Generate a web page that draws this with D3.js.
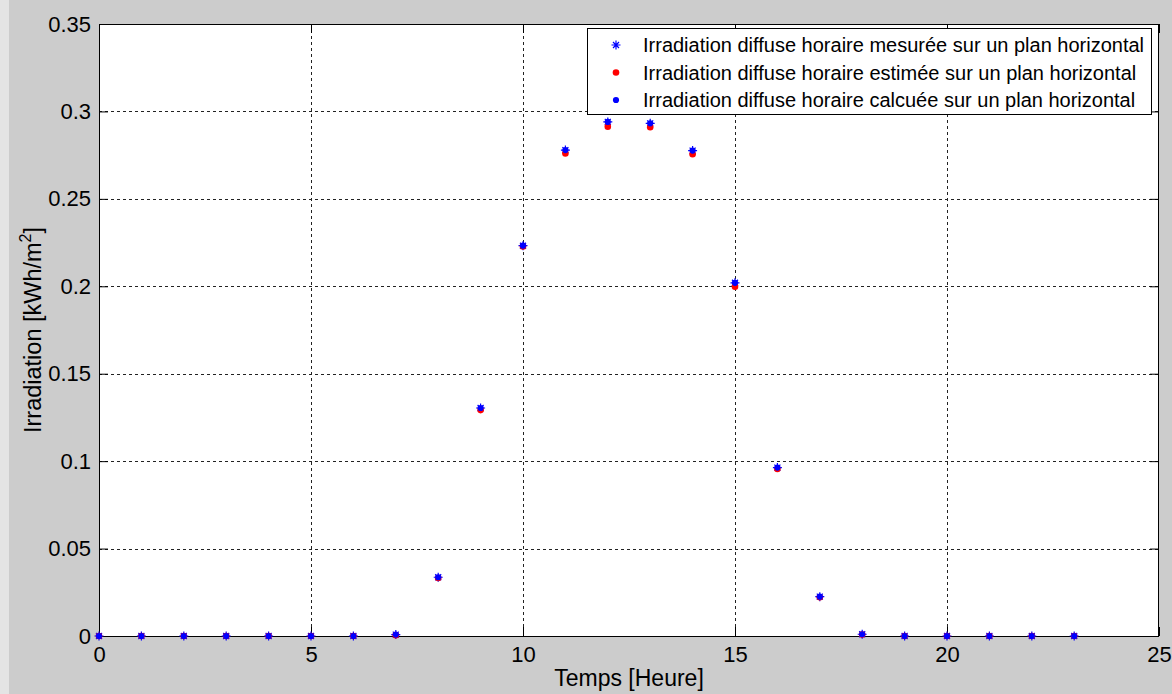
<!DOCTYPE html>
<html>
<head>
<meta charset="utf-8">
<script src="https://cdn.jsdelivr.net/npm/d3@7"></script>
<style>
  html, body { margin: 0; padding: 0; background: #cccccc; }
  svg { display: block; }
  text { font-family: "Liberation Sans", Arial, sans-serif; fill: #000; }
</style>
</head>
<body>
<svg id="chart" width="1172" height="694"></svg>
<script>
// Hourly diffuse irradiation on a horizontal plane (kWh/m²), hours 0..23
const hours = d3.range(0, 24);
const measured   = [0, 0, 0, 0, 0, 0, 0, 0.0008, 0.0336, 0.1304, 0.2232, 0.2779, 0.2940, 0.2932, 0.2776, 0.2020, 0.0963, 0.0225, 0.0010, 0, 0, 0, 0, 0];
const estimated  = [0, 0, 0, 0, 0, 0, 0, 0.0005, 0.0332, 0.1292, 0.2228, 0.2760, 0.2913, 0.2910, 0.2755, 0.1998, 0.0955, 0.0222, 0.0008, 0, 0, 0, 0, 0];
const calculated = [0, 0, 0, 0, 0, 0, 0, 0.0008, 0.0336, 0.1304, 0.2232, 0.2779, 0.2940, 0.2932, 0.2776, 0.2020, 0.0963, 0.0225, 0.0010, 0, 0, 0, 0, 0];

const xTicks = [0, 5, 10, 15, 20, 25];
const yTicks = [0, 0.05, 0.1, 0.15, 0.2, 0.25, 0.3, 0.35];
const yTickLabels = ["0", "0.05", "0.1", "0.15", "0.2", "0.25", "0.3", "0.35"];

const legendLabels = [
  "Irradiation diffuse horaire mesurée sur un plan horizontal",
  "Irradiation diffuse horaire estimée sur un plan horizontal",
  "Irradiation diffuse horaire calcuée sur un plan horizontal"
];

const svg = d3.select("#chart");
const W = 1172, H = 694;
const plot = { left: 99, right: 1159, top: 24, bottom: 636 };

svg.append("rect").attr("x", 0).attr("y", 0).attr("width", W).attr("height", H).attr("fill", "#cccccc");
svg.append("rect").attr("x", 0).attr("y", 0).attr("width", 9).attr("height", H).attr("fill", "#e4e4e4");

const x = d3.scaleLinear().domain([0, 25]).range([plot.left, plot.right]);
const y = d3.scaleLinear().domain([0, 0.35]).range([plot.bottom, plot.top]);

// plotting area
svg.append("rect")
  .attr("x", plot.left).attr("y", plot.top)
  .attr("width", plot.right - plot.left).attr("height", plot.bottom - plot.top)
  .attr("fill", "#ffffff");

// dotted grid
const grid = svg.append("g").attr("stroke", "#222").attr("stroke-width", 1).attr("stroke-dasharray", "3,3");
grid.selectAll("line.gx").data(xTicks.slice(1, -1)).join("line")
  .attr("x1", d => Math.round(x(d)) + 0.5).attr("x2", d => Math.round(x(d)) + 0.5)
  .attr("y1", plot.top).attr("y2", plot.bottom);
grid.selectAll("line.gy").data(yTicks.slice(1, -1)).join("line")
  .attr("y1", d => Math.round(y(d)) + 0.5).attr("y2", d => Math.round(y(d)) + 0.5)
  .attr("x1", plot.left).attr("x2", plot.right);

// axes with inward ticks on all four sides
const tickLen = 9;
const axBottom = d3.axisBottom(x).tickValues(xTicks).tickSizeInner(-tickLen).tickSizeOuter(0).tickPadding(10);
const axTop = d3.axisTop(x).tickValues(xTicks).tickSizeInner(-tickLen).tickSizeOuter(0).tickFormat("");
const axLeft = d3.axisLeft(y).tickValues(yTicks).tickSizeInner(-tickLen).tickSizeOuter(0)
  .tickPadding(8).tickFormat((d, i) => yTickLabels[i]);
const axRight = d3.axisRight(y).tickValues(yTicks).tickSizeInner(-tickLen).tickSizeOuter(0).tickFormat("");

function styleAxis(g) {
  g.select(".domain").remove();
  g.selectAll(".tick line").attr("stroke", "#000");
  g.selectAll(".tick text").attr("font-family", "'Liberation Sans', Arial, sans-serif")
    .attr("font-size", 22).attr("fill", "#000");
}
svg.append("g").attr("transform", `translate(0,${plot.bottom})`).call(axBottom).call(styleAxis);
svg.append("g").attr("transform", `translate(0,${plot.top})`).call(axTop).call(styleAxis);
svg.append("g").attr("transform", `translate(${plot.left},0)`).call(axLeft).call(styleAxis);
svg.append("g").attr("transform", `translate(${plot.right},0)`).call(axRight).call(styleAxis);

// box
svg.append("rect")
  .attr("x", plot.left + 0.5).attr("y", plot.top + 0.5)
  .attr("width", plot.right - plot.left - 1).attr("height", plot.bottom - plot.top)
  .attr("fill", "none").attr("stroke", "#000").attr("stroke-width", 1);

// markers
const starPath = "M-4.5,0L4.5,0M0,-4.5L0,4.5M-3,-3L3,3M-3,3L3,-3";
const marks = svg.append("g");
marks.selectAll("path.meas").data(hours).join("path")
  .attr("d", starPath)
  .attr("transform", d => `translate(${x(d)},${y(measured[d])})`)
  .attr("stroke", "#0000ff").attr("stroke-width", 1.2).attr("fill", "none");
marks.selectAll("circle.est").data(hours).join("circle")
  .attr("cx", d => x(d)).attr("cy", d => y(estimated[d])).attr("r", 3.3)
  .attr("fill", "#ff0000");
marks.selectAll("circle.calc").data(hours).join("circle")
  .attr("cx", d => x(d)).attr("cy", d => y(calculated[d])).attr("r", 3.1)
  .attr("fill", "#0000ff");

// axis titles
svg.append("text")
  .attr("x", (plot.left + plot.right) / 2).attr("y", 686)
  .attr("text-anchor", "middle").attr("font-size", 23)
  .text("Temps [Heure]");

const yl = svg.append("text")
  .attr("transform", `translate(41,${(plot.top + plot.bottom) / 2}) rotate(-90)`)
  .attr("text-anchor", "middle").attr("font-size", 23.5);
yl.append("tspan").text("Irradiation [kWh/m");
yl.append("tspan").attr("font-size", 16).attr("dy", -10).text("2");
yl.append("tspan").attr("dy", 10).text("]");

// legend
const lg = svg.append("g");
lg.append("rect").attr("x", 587.5).attr("y", 28.5).attr("width", 564).attr("height", 86)
  .attr("fill", "#fff").attr("stroke", "#000").attr("stroke-width", 1);
const rowY = [45, 72.5, 100];
lg.append("path").attr("d", starPath).attr("transform", `translate(616,${rowY[0]})`)
  .attr("stroke", "#0000ff").attr("stroke-width", 1.2).attr("fill", "none");
lg.append("circle").attr("cx", 616).attr("cy", rowY[1]).attr("r", 3.3).attr("fill", "#ff0000");
lg.append("circle").attr("cx", 616).attr("cy", rowY[2]).attr("r", 3.1).attr("fill", "#0000ff");
lg.selectAll("text.lbl").data(legendLabels).join("text")
  .attr("x", 643).attr("y", (d, i) => rowY[i] + 7)
  .attr("font-size", 20)
  .text(d => d);
</script>
</body>
</html>
